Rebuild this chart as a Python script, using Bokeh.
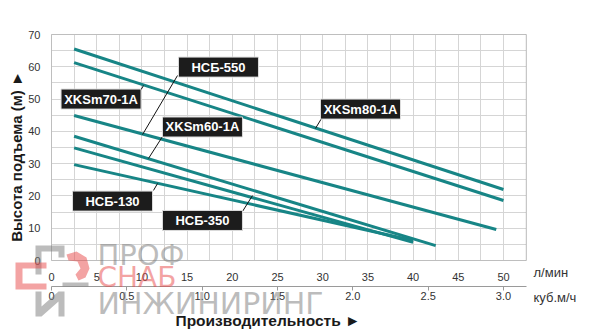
import numpy as np
from bokeh.plotting import figure
from bokeh.models import Range1d, LinearAxis, FixedTicker, Label, PolyAnnotation, BoxAnnotation
from bokeh.core.properties import value
from bokeh.embed import file_html
from bokeh.resources import INLINE

# ---------------- data ----------------
flow_ticks = [0, 5, 10, 15, 20, 25, 30, 35, 40, 45, 50]          # л/мин
m3h_ticks = [0, 0.5, 1.0, 1.5, 2.0, 2.5, 3.0]                     # куб.м/ч
m3h_labels = ["0", "0.5", "1.0", "1.5", "2.0", "2.5", "3.0"]
head_ticks = [0, 10, 20, 30, 40, 50, 60, 70]                      # м
grid_x = [0, 2.5, 5, 7.5, 10, 12.5, 15, 17.5, 20, 22.5, 25, 27.5, 30,
          32.5, 35, 37.5, 40, 42.5, 45, 47.5, 50, 52.5]
grid_y = [0, 5, 10, 15, 20, 25, 30, 35, 40, 45, 50, 55, 60, 65, 70]
flow_max = 52.5
head_max = 70

series_names = ["XKSm80-1A", "XKSm70-1A", "НСБ-550", "XKSm60-1A", "НСБ-350", "НСБ-130"]
flow_xks80 = [2.5, 50.0]
head_xks80 = [65.5, 22.0]
flow_xks70 = [2.5, 50.0]
head_xks70 = [61.3, 18.6]
flow_nsb550 = [2.5, 49.2]
head_nsb550 = [44.9, 9.6]
flow_xks60 = [2.5, 42.5]
head_xks60 = [38.5, 4.6]
flow_nsb350 = [2.5, 40.0]
head_nsb350 = [34.9, 5.6]
flow_nsb130 = [2.5, 40.0]
head_nsb130 = [29.7, 6.2]

LPM_PER_M3H = 1000.0 / 60.0

# ---------------- layout constants (pixels) ----------------
W, H = 600, 336
X0PX, Y0PX = 51, 260            # where flow=0 / head=0 sit
XPIX = 9.04                     # px per l/min
YPIX = 226.0 / 70.0             # px per m

def dx(px):
    return (px - X0PX) / XPIX
def dy(py):
    return (Y0PX - py) / YPIX

FONT = "Liberation Sans"
TEAL = "#178586"
GRIDC = "#d5d5d5"

p = figure(width=W, height=H, x_range=Range1d(dx(0), dx(W)), y_range=Range1d(dy(H), dy(0)),
           output_backend="svg", toolbar_location=None,
           min_border_left=0, min_border_right=0, min_border_top=0, min_border_bottom=0)
p.extra_x_ranges = {"m3h": Range1d(dx(0) / LPM_PER_M3H, dx(W) / LPM_PER_M3H)}
p.outline_line_color = None
p.background_fill_color = "white"
p.border_fill_color = "white"

# grid limited to the chart box
grid_ok = True
try:
    p.xgrid.ticker = FixedTicker(ticks=grid_x)
    p.ygrid.ticker = FixedTicker(ticks=grid_y)
    p.xgrid.bounds = (0, flow_max)
    p.ygrid.bounds = (0, head_max)
    p.xgrid.cross_bounds = (0, head_max)
    p.ygrid.cross_bounds = (0, flow_max)
    p.grid.grid_line_color = GRIDC
    p.grid.grid_line_width = 1
except Exception:
    grid_ok = False
if not grid_ok:
    p.grid.visible = False
    p.segment(grid_x, [0] * len(grid_x), grid_x, [head_max] * len(grid_x), line_color=GRIDC, line_width=1)
    p.segment([0] * len(grid_y), grid_y, [flow_max] * len(grid_y), grid_y, line_color=GRIDC, line_width=1)

p.add_layout(BoxAnnotation(left=0, right=flow_max, bottom=0, top=head_max, fill_color=None,
                           line_color="#8a8a8a", line_width=1, level="underlay"))

xa = p.xaxis[0]
xa.fixed_location = 0
xa.ticker = FixedTicker(ticks=flow_ticks)
xa.axis_line_color = None
xa.major_tick_line_color = None
xa.minor_tick_line_color = None
xa.major_label_text_font = FONT
xa.major_label_text_font_size = "11px"
xa.major_label_text_color = "#333333"
xa.major_label_standoff = 6

ya = p.yaxis[0]
ya.fixed_location = 0
ya.bounds = (dy(278), head_max)          # centres the axis title where the original has it
ya.ticker = FixedTicker(ticks=head_ticks)
ya.axis_line_color = None
ya.major_tick_line_color = None
ya.minor_tick_line_color = None
ya.major_label_text_font = FONT
ya.major_label_text_font_size = "11px"
ya.major_label_text_color = "#333333"
ya.major_label_standoff = 5
ya.axis_label = "Высота подъема (м) ►"
ya.axis_label_text_font = FONT
ya.axis_label_text_font_style = "bold"
ya.axis_label_text_font_size = "15px"
ya.axis_label_text_color = "#1a1a1a"
ya.axis_label_standoff = 0

ax2 = LinearAxis(x_range_name="m3h", ticker=FixedTicker(ticks=m3h_ticks),
                 bounds=(0, flow_max / LPM_PER_M3H), fixed_location=dy(285.7),
                 major_label_overrides={t: l for t, l in zip(m3h_ticks, m3h_labels)})
ax2.axis_line_color = "#9a9a9a"
ax2.major_tick_line_color = "#9a9a9a"
ax2.major_tick_out = 4
ax2.major_tick_in = 0
ax2.minor_tick_line_color = None
ax2.major_label_text_font = FONT
ax2.major_label_text_font_size = "11px"
ax2.major_label_text_color = "#333333"
ax2.major_label_standoff = 2
p.add_layout(ax2, "below")

# ---------------- curves ----------------
for fx, hy in [(flow_xks80, head_xks80), (flow_xks70, head_xks70), (flow_nsb550, head_nsb550),
               (flow_xks60, head_xks60), (flow_nsb350, head_nsb350), (flow_nsb130, head_nsb130)]:
    p.line(fx, hy, line_color=TEAL, line_width=3)

# ---------------- callouts (annotation placement) ----------------
box_x = [34.18, 5.48, 18.47, 16.7, 16.7, 6.75]
box_y = [46.9, 50.0, 59.9, 41.35, 12.4, 18.4]
lead_x0 = [29.87, 9.85, 13.94, 12.28, 21.13, 11.28]
lead_y0 = [44.0, 52.65, 57.3, 38.4, 15.2, 21.7]
lead_x1 = [29.2, 10.18, 10.07, 10.73, 22.23, 11.73]
lead_y1 = [40.9, 54.2, 39.0, 31.6, 20.1, 23.85]

p.segment(lead_x0, lead_y0, lead_x1, lead_y1, line_color="#111111", line_width=1)
p.rect(x=box_x, y=box_y, width=80, height=20, width_units="screen", height_units="screen",
       fill_color="#1c1c1c", line_color="#dddddd", line_width=1)
p.text(x=box_x, y=box_y, text=series_names, text_align="center", text_baseline="middle",
       text_color="white", text_font=value(FONT), text_font_style="bold", text_font_size="13px")

# ---------------- texts around the chart box ----------------
def label(px, py, text, size, color="#333333", bold=False, font=FONT, alpha=1.0, align="left"):
    p.add_layout(Label(x=dx(px), y=dy(py), text=text, text_font=font, text_font_size=size,
                       text_font_style="bold" if bold else "normal", text_color=color,
                       text_alpha=alpha, text_baseline="middle", text_align=align, level="overlay"))

label(533, 272, "л/мин", "13px")
label(533, 297, "куб.м/ч", "13px")
label(175, 320, "Производительность ►", "15.5px", color="#1a1a1a", bold=True)

# ---------------- watermark ----------------
GRAY = "#7a7a7a"
PINK = "#e84848"
def poly(pts, color):
    p.add_layout(PolyAnnotation(xs=[dx(a) for a, b in pts], ys=[dy(b) for a, b in pts],
                                level="overlay", fill_color=color, fill_alpha=0.5, line_color=None))

poly([(35, 245), (64, 245), (64, 257), (58, 257), (58, 251), (41, 251), (41, 274), (35, 274)], GRAY)
poly([(15, 262), (46, 262), (46, 268), (22, 268), (22, 283), (46, 283), (46, 289), (15, 289)], PINK)
poly([(66, 254), (76, 251), (86, 257), (89, 268), (85, 277), (78, 280), (75, 274), (80, 268),
      (77, 261), (68, 260)], PINK)
poly([(35, 291), (41, 291), (41, 306), (58, 291), (64, 291), (64, 316), (58, 316), (58, 301),
      (41, 316), (35, 316)], GRAY)
poly([(62, 282), (88, 282), (88, 286), (62, 286)], GRAY)

label(97, 254, "ПРОФ", "29px", color=GRAY, font="DejaVu Sans", alpha=0.5)
label(97, 277, "СНАБ", "28px", color=PINK, font="DejaVu Sans", alpha=0.5)
label(97, 303, "ИНЖИНИРИНГ", "30px", color=GRAY, font="DejaVu Sans", alpha=0.5)

open("out.html", "w").write(file_html(p, INLINE))
